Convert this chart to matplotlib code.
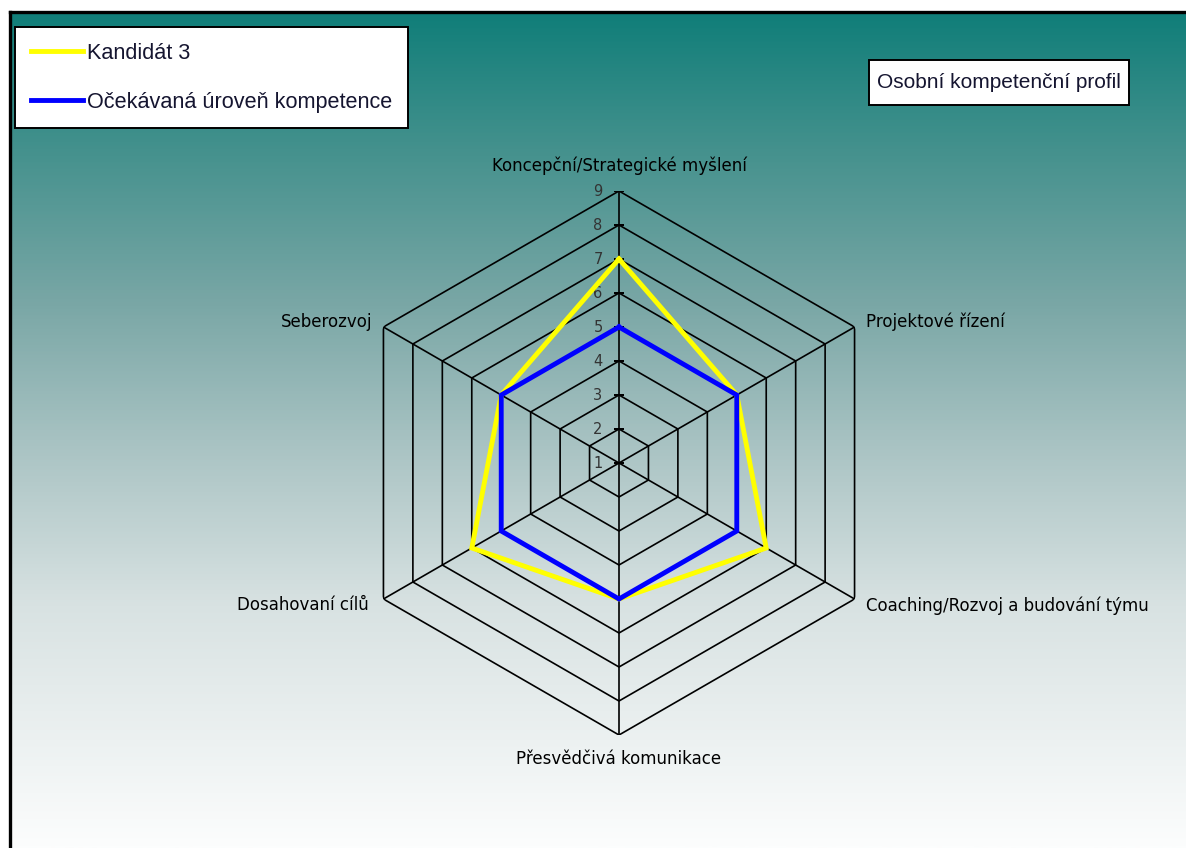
import numpy as np
import matplotlib
matplotlib.use("Agg")
import matplotlib.pyplot as plt
from matplotlib.colors import LinearSegmentedColormap
from matplotlib.patches import Rectangle
from matplotlib.lines import Line2D

# ---------------- data ----------------
categories = [
    "Koncepční/Strategické myšlení",
    "Projektové řízení",
    "Coaching/Rozvoj a budování týmu",
    "Přesvědčivá komunikace",
    "Dosahovaní cílů",
    "Seberozvoj",
]
candidate = [7, 5, 6, 5, 6, 5]          # Kandidát 3
expected = [5, 5, 5, 5, 5, 5]           # Očekávaná úroveň kompetence
series_names = ["Kandidát 3", "Očekávaná úroveň kompetence"]
rings = [1, 2, 3, 4, 5, 6, 7, 8, 9]
r_min, r_max = 1, 9
title_text = "Osobní kompetenční profil"

# ---------------- figure ----------------
W, H = 1186, 848
DPI = 100
fig = plt.figure(figsize=(W / DPI, H / DPI), dpi=DPI)
fig.patch.set_facecolor("white")

def fx(px):
    return px / W

def fy(py):
    return 1 - py / H

# background gradient panel
bg = fig.add_axes([fx(10), 0, 1 - fx(10), fy(12)])
bg.set_axis_off()
stops = [
    (0.00, (16 / 255, 126 / 255, 121 / 255)),
    (0.17, (70 / 255, 146 / 255, 142 / 255)),
    (0.35, (122 / 255, 167 / 255, 166 / 255)),
    (0.53, (172 / 255, 197 / 255, 197 / 255)),
    (0.71, (216 / 255, 226 / 255, 226 / 255)),
    (1.00, (252 / 255, 253 / 255, 253 / 255)),
]
cmap = LinearSegmentedColormap.from_list("bg", stops)
grad = np.linspace(0, 1, 512).reshape(-1, 1)
bg.imshow(grad, aspect="auto", cmap=cmap, extent=[0, 1, 0, 1], origin="upper")
bg.set_xlim(0, 1)
bg.set_ylim(0, 1)

# frame border (left + top)
fig.add_artist(Line2D([fx(10), fx(10)], [0, fy(12)], color="black", lw=2.4,
                      transform=fig.transFigure, solid_capstyle="projecting"))
fig.add_artist(Line2D([fx(10), 1], [fy(12), fy(12)], color="black", lw=2.4,
                      transform=fig.transFigure, solid_capstyle="projecting"))

# ---------------- radar ----------------
cx, cy, R = 619, 463, 272
ax = fig.add_axes([fx(cx - R), fy(cy + R), fx(2 * R), (2 * R) / H], projection="polar")
ax.set_facecolor("none")
ax.patch.set_alpha(0)
ax.set_theta_zero_location("N")
ax.set_theta_direction(-1)
ax.set_ylim(r_min, r_max)
ax.grid(False)
ax.spines["polar"].set_visible(False)
ax.set_xticks([])
ax.set_yticks([])

n = len(categories)
angles = np.linspace(0, 2 * np.pi, n, endpoint=False)
ang_c = np.concatenate([angles, angles[:1]])

# hexagonal grid rings
for r in rings[1:]:
    ax.plot(ang_c, [r] * (n + 1), color="black", lw=1.2, zorder=2)
# spokes
for a in angles:
    ax.plot([a, a], [r_min, r_max], color="black", lw=1.2, zorder=2)
# tick marks on vertical axis
ax.plot([0] * len(rings), rings, linestyle="none", marker="_", markersize=7,
        markeredgewidth=1.1, color="black", zorder=2)
# ring value labels
for r in rings:
    ax.annotate(str(r), xy=(0, r), xytext=(-21, 0), textcoords="offset pixels",
                ha="center", va="center", fontsize=10.5, color="#333333",
                family="DejaVu Sans", zorder=3)

# data series
cand_c = candidate + candidate[:1]
exp_c = expected + expected[:1]
l1, = ax.plot(ang_c, cand_c, color="#ffff00", lw=3.5, zorder=4,
              solid_joinstyle="miter", label=series_names[0])
l2, = ax.plot(ang_c, exp_c, color="#0000ff", lw=3.5, zorder=5,
              solid_joinstyle="miter", label=series_names[1])

# category labels
label_cfg = [
    ((0, 25), "center", "center"),
    ((11, 5), "left", "center"),
    ((11, -7), "left", "center"),
    ((0, -24), "center", "center"),
    ((-15, -6), "right", "center"),
    ((-11, 5), "right", "center"),
]
for a, name, (off, ha, va) in zip(angles, categories, label_cfg):
    ax.annotate(name, xy=(a, r_max), xytext=off, textcoords="offset pixels",
                ha=ha, va=va, fontsize=12, color="black", family="DejaVu Sans",
                annotation_clip=False, zorder=6)

# ---------------- legend ----------------
leg = fig.legend(handles=[l1, l2], labels=series_names,
                 loc="upper left", bbox_to_anchor=(fx(15), fy(27)),
                 bbox_transform=fig.transFigure, borderaxespad=0,
                 prop={"family": "Liberation Sans", "size": 15.6},
                 handlelength=2.4, handletextpad=0.2, labelspacing=1.3,
                 borderpad=0.72, fancybox=False, framealpha=1,
                 edgecolor="black", facecolor="white")
leg.get_frame().set_linewidth(1.4)
for t in leg.get_texts():
    t.set_color("#151530")

# ---------------- title box ----------------
fig.add_artist(Rectangle((fx(869), fy(105)), fx(1129 - 869), (105 - 60) / H,
                         transform=fig.transFigure, facecolor="white",
                         edgecolor="black", lw=1.4, zorder=10))
fig.text(fx(999), fy(83), title_text, ha="center", va="center",
         fontsize=15, family="Liberation Sans", color="#151530", zorder=11)

fig.savefig("out.png", dpi=DPI)
